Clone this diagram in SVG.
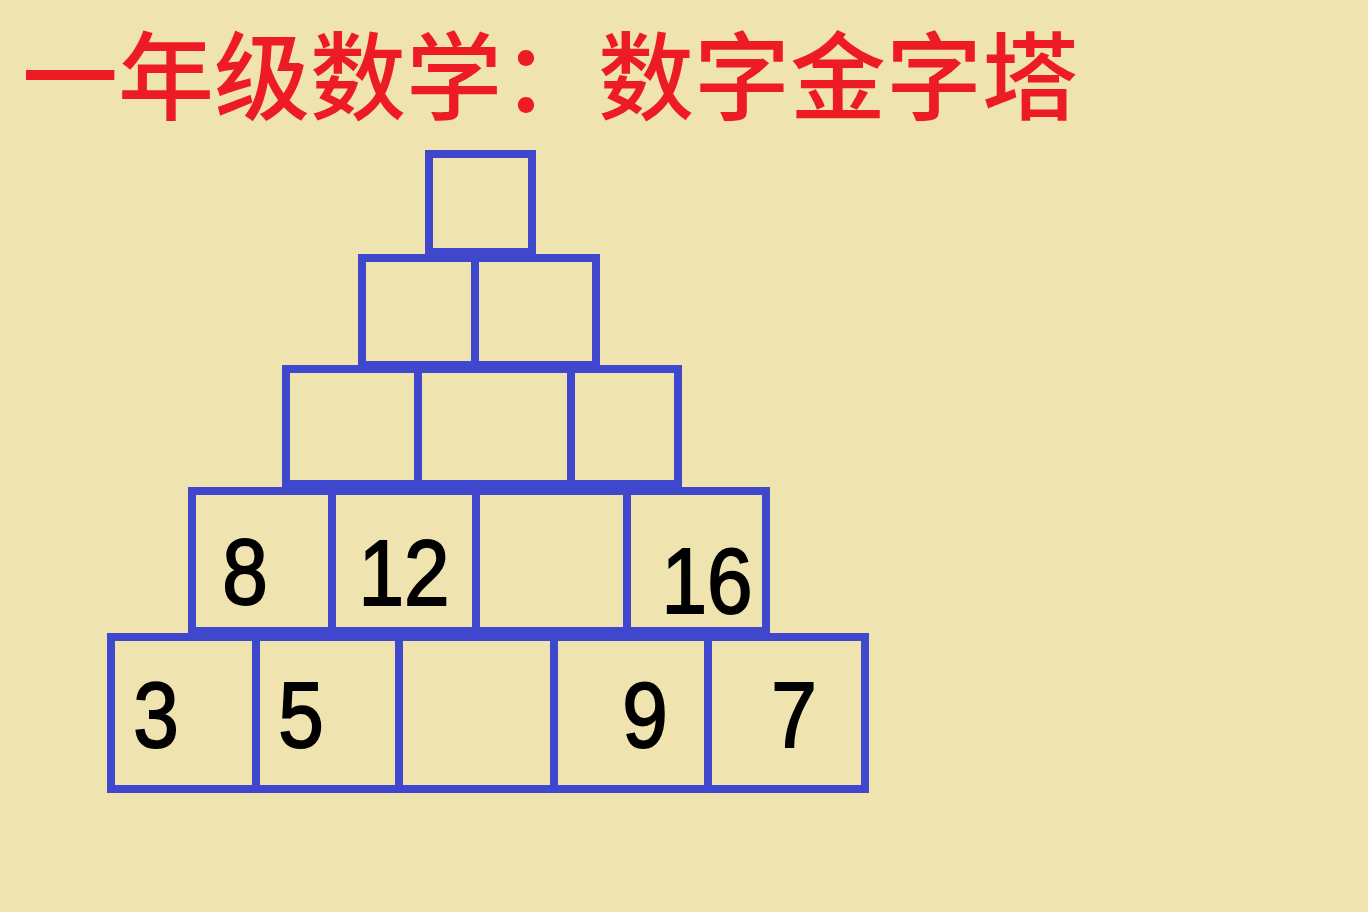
<svg xmlns="http://www.w3.org/2000/svg" width="1368" height="912" viewBox="0 0 1368 912">
<style>
.c{fill:none;stroke:#3F48CC;stroke-width:8}
.n{font-family:"Liberation Sans",Arial,sans-serif;font-size:93px;fill:#000;stroke:#000;stroke-width:2;text-anchor:middle}
.t{font-family:"Noto Sans CJK SC",sans-serif;font-size:96px;font-weight:500;fill:#ED1C24}
</style>
<rect width="1368" height="912" fill="#EFE4B0"/>
<g id="title"><text class="t" x="22" y="112">一年级数学：数字金字塔</text></g>
<g id="r1c1"><rect class="c" x="429" y="154" width="103" height="98"/></g>
<g id="r2c1"><rect class="c" x="362" y="258" width="113" height="107"/></g>
<g id="r2c2"><rect class="c" x="475" y="258" width="121" height="107"/></g>
<g id="r3c1"><rect class="c" x="286" y="369" width="132" height="115"/></g>
<g id="r3c2"><rect class="c" x="418" y="369" width="153" height="115"/></g>
<g id="r3c3"><rect class="c" x="571" y="369" width="107" height="115"/></g>
<g id="r4c1"><rect class="c" x="192" y="491" width="140" height="140"/><text class="n" transform="translate(245 604) scale(0.88 1)">8</text></g>
<g id="r4c2"><rect class="c" x="332" y="491" width="144" height="140"/><text class="n" transform="translate(404 605) scale(0.88 1)">12</text></g>
<g id="r4c3"><rect class="c" x="476" y="491" width="151" height="140"/></g>
<g id="r4c4"><rect class="c" x="627" y="491" width="139" height="140"/><text class="n" transform="translate(707 613) scale(0.88 1)">16</text></g>
<g id="r5c1"><rect class="c" x="111" y="637" width="145" height="152"/><text class="n" transform="translate(156 747) scale(0.88 1)">3</text></g>
<g id="r5c2"><rect class="c" x="256" y="637" width="143" height="152"/><text class="n" transform="translate(301 747) scale(0.88 1)">5</text></g>
<g id="r5c3"><rect class="c" x="399" y="637" width="155" height="152"/></g>
<g id="r5c4"><rect class="c" x="554" y="637" width="154" height="152"/><text class="n" transform="translate(645 747) scale(0.88 1)">9</text></g>
<g id="r5c5"><rect class="c" x="708" y="637" width="157" height="152"/><text class="n" transform="translate(794 747) scale(0.88 1)">7</text></g>
<g id="connectors"/>
</svg>
